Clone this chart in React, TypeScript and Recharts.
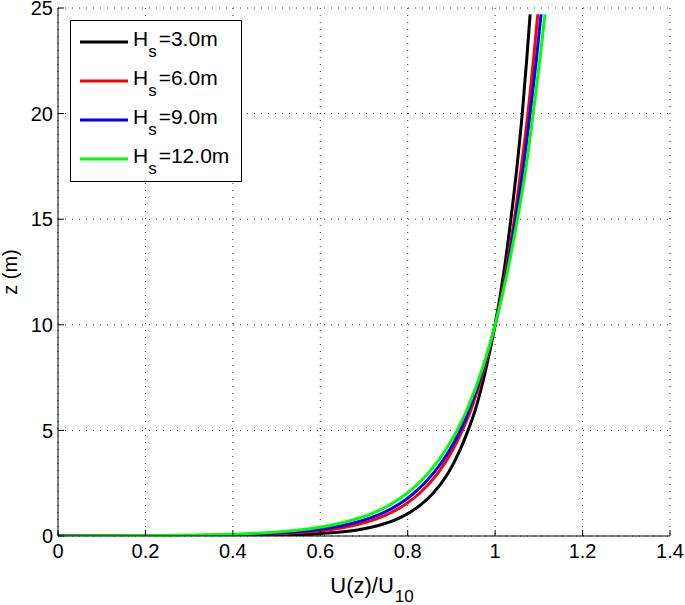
import React from 'react'
import { LineChart, Line, XAxis, YAxis, CartesianGrid, Legend } from 'recharts'

// heights (m) the profiles were read at
const zLevels = [0, 0.005, 0.01, 0.02, 0.05, 0.1, 0.2, 0.3, 0.5, 0.75, 1, 1.5, 2, 3, 4, 5, 6, 8, 10, 12.5, 15, 17.5, 20, 22.5, 24.7]

// U(z)/U10 for each significant wave height
const uHs3 = [0, 0.323, 0.385, 0.447, 0.528, 0.59, 0.652, 0.688, 0.733, 0.77, 0.795, 0.831, 0.857, 0.893, 0.918, 0.938, 0.955, 0.98, 1, 1.02, 1.036, 1.05, 1.062, 1.072, 1.08]
const uHs6 = [0, 0.18, 0.255, 0.33, 0.428, 0.503, 0.578, 0.621, 0.676, 0.72, 0.751, 0.795, 0.826, 0.87, 0.901, 0.925, 0.945, 0.976, 1, 1.024, 1.044, 1.06, 1.075, 1.0875, 1.0975]
const uHs9 = [0, 0.118, 0.198, 0.279, 0.385, 0.465, 0.546, 0.593, 0.652, 0.699, 0.733, 0.78, 0.813, 0.86, 0.894, 0.92, 0.941, 0.974, 1, 1.026, 1.047, 1.065, 1.08, 1.094, 1.105]
const uHs12 = [0, 0.042, 0.129, 0.217, 0.332, 0.419, 0.507, 0.557, 0.622, 0.673, 0.71, 0.761, 0.797, 0.848, 0.8845, 0.913, 0.936, 0.972, 1, 1.028, 1.051, 1.071, 1.087, 1.102, 1.114]

const hsLabels = ['3.0m', '6.0m', '9.0m', '12.0m']
const colors = ['#000000', '#ff0000', '#0000ff', '#00ff00']

const xTicks = [0, 0.2, 0.4, 0.6, 0.8, 1, 1.2, 1.4]
const yTicks = [0, 5, 10, 15, 20, 25]

const FONT = '"Liberation Sans", Arial, Helvetica, sans-serif'

const series = [uHs3, uHs6, uHs9, uHs12].map((u, i) => ({
  name: hsLabels[i],
  color: colors[i],
  points: zLevels.map((z, k) => ({ u: u[k], z })),
}))

const tickStyle = { fill: '#000', fontSize: 20, fontFamily: FONT }
const axisStroke = { stroke: '#000', strokeWidth: 1 }

function XLabel(props: any) {
  const { x, y, width } = props.viewBox
  return (
    <text x={x + width / 2 + 8} y={y + 57} textAnchor="middle" fontSize={22} fontFamily={FONT} fill="#000">
      U(z)/U<tspan dx={1} dy={9} fontSize={17}>10</tspan>
    </text>
  )
}

function YLabel(props: any) {
  const { y, height } = props.viewBox
  const cy = y + height / 2
  return (
    <text x={17} y={cy} transform={`rotate(-90, 17, ${cy})`} textAnchor="middle" fontSize={20} fontFamily={FONT} fill="#000">
      z (m)
    </text>
  )
}

function LegendBox() {
  return (
    <svg width={172} height={162} style={{ display: 'block' }}>
      <rect x={0.5} y={0.5} width={171} height={161} fill="#fff" stroke="#000" />
      {series.map((s, i) => {
        const cy = 22 + i * 39
        return (
          <g key={s.name}>
            <line x1={10} x2={58} y1={cy} y2={cy} stroke={s.color} strokeWidth={3} />
            <text x={63} y={cy + 4} fontSize={21} fontFamily={FONT} fill="#000">
              H<tspan dy={11} fontSize={17}>s</tspan>
              <tspan dx={2} dy={-11}>={s.name}</tspan>
            </text>
          </g>
        )
      })}
    </svg>
  )
}

export default function App() {
  return (
    <div style={{ position: 'absolute', left: 0, top: 0, background: '#fff' }}>
      <LineChart width={685} height={605} margin={{ top: 8, right: 15, bottom: 0, left: 0 }}>
        <CartesianGrid stroke="#333" strokeDasharray="1 6" />
        <XAxis
          dataKey="u"
          type="number"
          domain={[0, 1.4]}
          ticks={xTicks}
          interval={0}
          allowDataOverflow
          height={69}
          tickSize={-6}
          tickMargin={14}
          tick={tickStyle}
          axisLine={axisStroke}
          tickLine={axisStroke}
          label={(p: any) => <XLabel {...p} />}
        />
        <XAxis
          xAxisId="top"
          orientation="top"
          type="number"
          domain={[0, 1.4]}
          ticks={xTicks}
          interval={0}
          height={0}
          tickSize={-6}
          tick={false}
          axisLine={axisStroke}
          tickLine={axisStroke}
        />
        <YAxis
          dataKey="z"
          type="number"
          domain={[0, 25]}
          ticks={yTicks}
          interval={0}
          allowDataOverflow
          width={58}
          tickSize={-6}
          tickMargin={11}
          tick={tickStyle}
          axisLine={axisStroke}
          tickLine={axisStroke}
          label={(p: any) => <YLabel {...p} />}
        />
        <YAxis
          yAxisId="right"
          orientation="right"
          type="number"
          domain={[0, 25]}
          ticks={yTicks}
          interval={0}
          width={0}
          tickSize={-6}
          tick={false}
          axisLine={axisStroke}
          tickLine={axisStroke}
        />
        {series.map((s) => (
          <Line
            key={s.name}
            name={s.name}
            data={s.points}
            dataKey="z"
            type="monotone"
            stroke={s.color}
            strokeWidth={3}
            dot={false}
            activeDot={false}
            isAnimationActive={false}
          />
        ))}
        <Legend
          layout="horizontal"
          verticalAlign="middle"
          align="center"
          wrapperStyle={{ left: 70, top: 20, width: 172, height: 162 }}
          content={() => <LegendBox />}
        />
      </LineChart>
    </div>
  )
}
